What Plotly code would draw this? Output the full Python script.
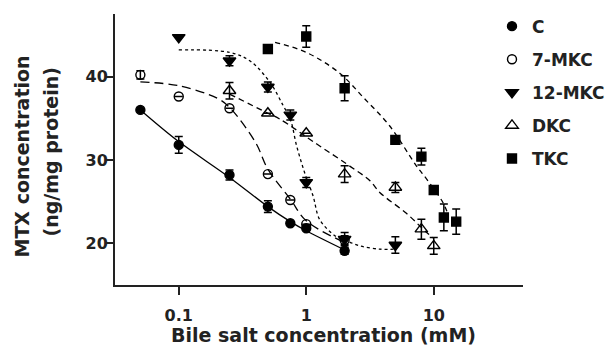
import plotly.graph_objects as go

# ---- data ----
series_names = ["C", "7-MKC", "12-MKC", "DKC", "TKC"]

c_x = [0.05, 0.1, 0.25, 0.5, 0.75, 1, 2]
c_y = [36.0, 31.8, 28.2, 24.4, 22.4, 21.8, 19.1]
c_err = [None, 1.0, 0.6, 0.7, None, None, 0.4]

mkc7_x = [0.05, 0.1, 0.25, 0.5, 0.75, 1, 2]
mkc7_y = [40.2, 37.6, 36.2, 28.3, 25.2, 22.3, 20.4]
mkc7_err = [0.5, None, None, None, None, None, 0.5]

mkc12_x = [0.1, 0.25, 0.5, 0.75, 1, 2, 5]
mkc12_y = [44.7, 41.9, 38.75, 35.4, 27.3, 20.5, 19.8]
mkc12_err = [None, 0.6, 0.6, 0.6, 0.6, 0.8, 1.0]

dkc_x = [0.25, 0.5, 1, 2, 5, 8, 10]
dkc_y = [38.3, 35.6, 33.2, 28.3, 26.7, 21.7, 19.7]
dkc_err = [1.0, None, None, 1.0, 0.6, 1.2, 1.0]

tkc_x = [0.5, 1, 2, 5, 8, 10, 12, 15]
tkc_y = [43.3, 44.8, 38.6, 32.4, 30.4, 26.4, 23.1, 22.6]
tkc_err = [None, 1.3, 1.5, None, 1.0, None, 1.6, 1.5]

# fitted curves
c_fit_x = [0.05, 0.1, 0.25, 0.5, 0.75, 1, 2]
c_fit_y = [36.0, 32.2, 27.9, 24.4, 22.6, 21.5, 19.2]

mkc7_fit_x = [0.05, 0.1, 0.2, 0.25, 0.4, 0.5, 0.75, 1, 2]
mkc7_fit_y = [39.35, 38.9, 37.4, 36.3, 32.1, 28.9, 25.3, 22.7, 20.1]

mkc12_fit_x = [0.1, 0.25, 0.36, 0.52, 0.66, 0.75, 0.84, 0.97, 1.13, 1.28, 1.72, 2.0, 2.63, 3.77, 5]
mkc12_fit_y = [43.2, 42.9, 41.9, 39.3, 36.5, 34.9, 31.7, 28.5, 25.7, 22.8, 20.8, 20.4, 19.7, 19.3, 19.3]

dkc_fit_x = [0.25, 0.5, 0.62, 1.21, 2.08, 3.16, 3.77, 6.1, 8.8, 10]
dkc_fit_y = [37.9, 35.6, 34.9, 31.9, 29.5, 27.5, 26.1, 23.6, 21.3, 20.6]

tkc_fit_x = [0.57, 1.0, 1.83, 2.8, 4.5, 7.3, 8.8, 11.8, 13.0]
tkc_fit_y = [44.1, 42.9, 40.4, 37.5, 34.1, 29.3, 27.7, 24.9, 23.4]

x_tick_vals = [0.1, 1, 10]
x_tick_text = ["0.1", "1", "10"]
y_tick_vals = [20, 30, 40]

x_title = "Bile salt concentration (mM)"
y_title_lines = ["MTX concentration", "(ng/mg protein)"]

FONT = "DejaVu Sans, Liberation Sans, Arial, sans-serif"
INK = "#222222"

# ---- figure ----
fig = go.Figure()

fits = [
    (c_fit_x, c_fit_y, "solid"),
    (mkc7_fit_x, mkc7_fit_y, "9px,5px"),
    (mkc12_fit_x, mkc12_fit_y, "3px,3px"),
    (dkc_fit_x, dkc_fit_y, "6px,4px"),
    (tkc_fit_x, tkc_fit_y, "5px,4px"),
]
for fx, fy, dash in fits:
    fig.add_trace(go.Scatter(x=fx, y=fy, mode="lines", line_shape="spline",
                             line=dict(color="black", width=1.3, dash=dash),
                             showlegend=False, hoverinfo="skip"))

points = [
    (c_x, c_y, c_err, "circle", 9),
    (mkc7_x, mkc7_y, mkc7_err, "circle-open", 9),
    (mkc12_x, mkc12_y, mkc12_err, "triangle-down", 11),
    (dkc_x, dkc_y, dkc_err, "triangle-up-open", 11),
    (tkc_x, tkc_y, tkc_err, "square", 9),
]
for i, (px_, py_, pe, sym, sz) in enumerate(points):
    fig.add_trace(go.Scatter(
        x=px_, y=py_, mode="markers", name=series_names[i],
        legendgroup=series_names[i],
        marker=dict(symbol=sym, size=sz, color="black",
                    line=dict(color="black", width=1.4)),
        error_y=dict(type="data", array=pe, visible=True, color="black",
                     thickness=1.5, width=4),
    ))

# axis titles as annotations for exact placement
fig.add_annotation(text=x_title, xref="paper", yref="paper", x=0.5, y=0,
                   xanchor="center", yanchor="middle", xshift=4, yshift=-50,
                   showarrow=False,
                   font=dict(family=FONT, size=19, weight="bold", color=INK))
fig.add_annotation(text=y_title_lines[0], xref="paper", yref="paper", x=0, y=0.5,
                   xanchor="center", yanchor="middle", xshift=-94, yshift=-7,
                   textangle=-90, showarrow=False,
                   font=dict(family=FONT, size=19, weight="bold", color=INK))
fig.add_annotation(text=y_title_lines[1], xref="paper", yref="paper", x=0, y=0.5,
                   xanchor="center", yanchor="middle", xshift=-65, yshift=-3,
                   textangle=-90, showarrow=False,
                   font=dict(family=FONT, size=19, weight="bold", color=INK))

fig.update_layout(
    width=614, height=350,
    margin=dict(l=107, r=99, t=6, b=73, autoexpand=False),
    paper_bgcolor="white", plot_bgcolor="white",
    font=dict(family=FONT, color=INK),
    legend=dict(x=0.924, y=1.02, xanchor="left", yanchor="top",
                font=dict(size=17, weight="bold", color=INK),
                tracegroupgap=8, itemwidth=30, bgcolor="rgba(0,0,0,0)"),
    xaxis=dict(type="log", range=[-1.5, 1.7], tickvals=x_tick_vals,
               ticktext=x_tick_text, showgrid=False, zeroline=False,
               showline=True, linecolor=INK, linewidth=2,
               ticks="outside", ticklen=8, tickwidth=2, tickcolor=INK,
               ticklabelstandoff=7,
               tickfont=dict(size=16, weight="bold", color=INK)),
    yaxis=dict(range=[15, 47.5], tickvals=y_tick_vals, showgrid=False,
               zeroline=False, showline=True, linecolor=INK, linewidth=2,
               ticks="outside", ticklen=8, tickwidth=2, tickcolor=INK,
               ticklabelstandoff=-6,
               tickfont=dict(size=16, weight="bold", color=INK)),
)

fig.write_html("out.html")
